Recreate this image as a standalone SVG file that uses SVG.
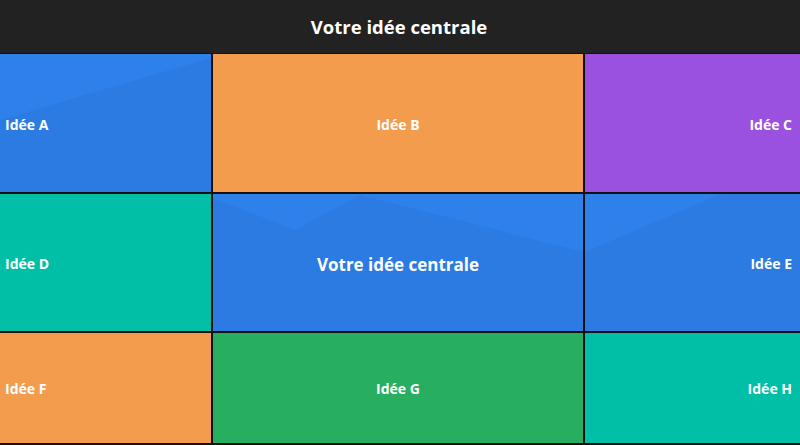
<svg xmlns="http://www.w3.org/2000/svg" width="800" height="445" viewBox="0 0 800 445">
<style>
.t{font-family:"Open Sans","Liberation Sans",sans-serif;font-weight:700;fill:#fff;dominant-baseline:central}
.s{font-size:14px}
.m{font-size:17px}
.h{font-size:18.5px}
.blue{fill:#2E80EA}
.shade{fill:#2C7BE2}
.orange{fill:#F39C4E}
.purple{fill:#9B51E0}
.teal{fill:#00BFA6}
.green{fill:#27AE60}
</style>
<rect width="800" height="445" fill="#111"/>
<g id="title">
<rect x="0" y="0" width="800" height="53" fill="#222"/>
<text class="t h" x="399" y="26" text-anchor="middle">Votre idée centrale</text>
</g>
<g id="A">
<rect class="blue" x="0" y="54" width="211" height="138"/>
<polygon class="shade" points="0,120 211,58 211,192 0,192"/>
<text class="t s" x="5" y="124">Idée A</text>
</g>
<g id="B">
<rect class="orange" x="213" y="54" width="370" height="138"/>
<text class="t s" x="398" y="124" text-anchor="middle">Idée B</text>
</g>
<g id="C">
<rect class="purple" x="585" y="54" width="215" height="138"/>
<text class="t s" x="792" y="124" text-anchor="end">Idée C</text>
</g>
<g id="D">
<rect class="teal" x="0" y="194" width="211" height="137"/>
<text class="t s" x="5" y="263">Idée D</text>
</g>
<g id="center">
<rect class="blue" x="213" y="194" width="370" height="137"/>
<polygon class="shade" points="213,198 295,230 360,195 583,252 583,331 213,331"/>
<text class="t m" x="398" y="264" text-anchor="middle">Votre idée centrale</text>
</g>
<g id="E">
<rect class="blue" x="585" y="194" width="215" height="137"/>
<polygon class="shade" points="585,252 721,194 800,194 800,331 585,331"/>
<text class="t s" x="792" y="263" text-anchor="end">Idée E</text>
</g>
<g id="F">
<rect class="orange" x="0" y="333" width="211" height="110"/>
<text class="t s" x="5" y="388">Idée F</text>
</g>
<g id="G">
<rect class="green" x="213" y="333" width="370" height="110"/>
<text class="t s" x="398" y="388" text-anchor="middle">Idée G</text>
</g>
<g id="H">
<rect class="teal" x="585" y="333" width="215" height="110"/>
<text class="t s" x="792" y="388" text-anchor="end">Idée H</text>
</g>
<g id="connectors"></g>
</svg>
